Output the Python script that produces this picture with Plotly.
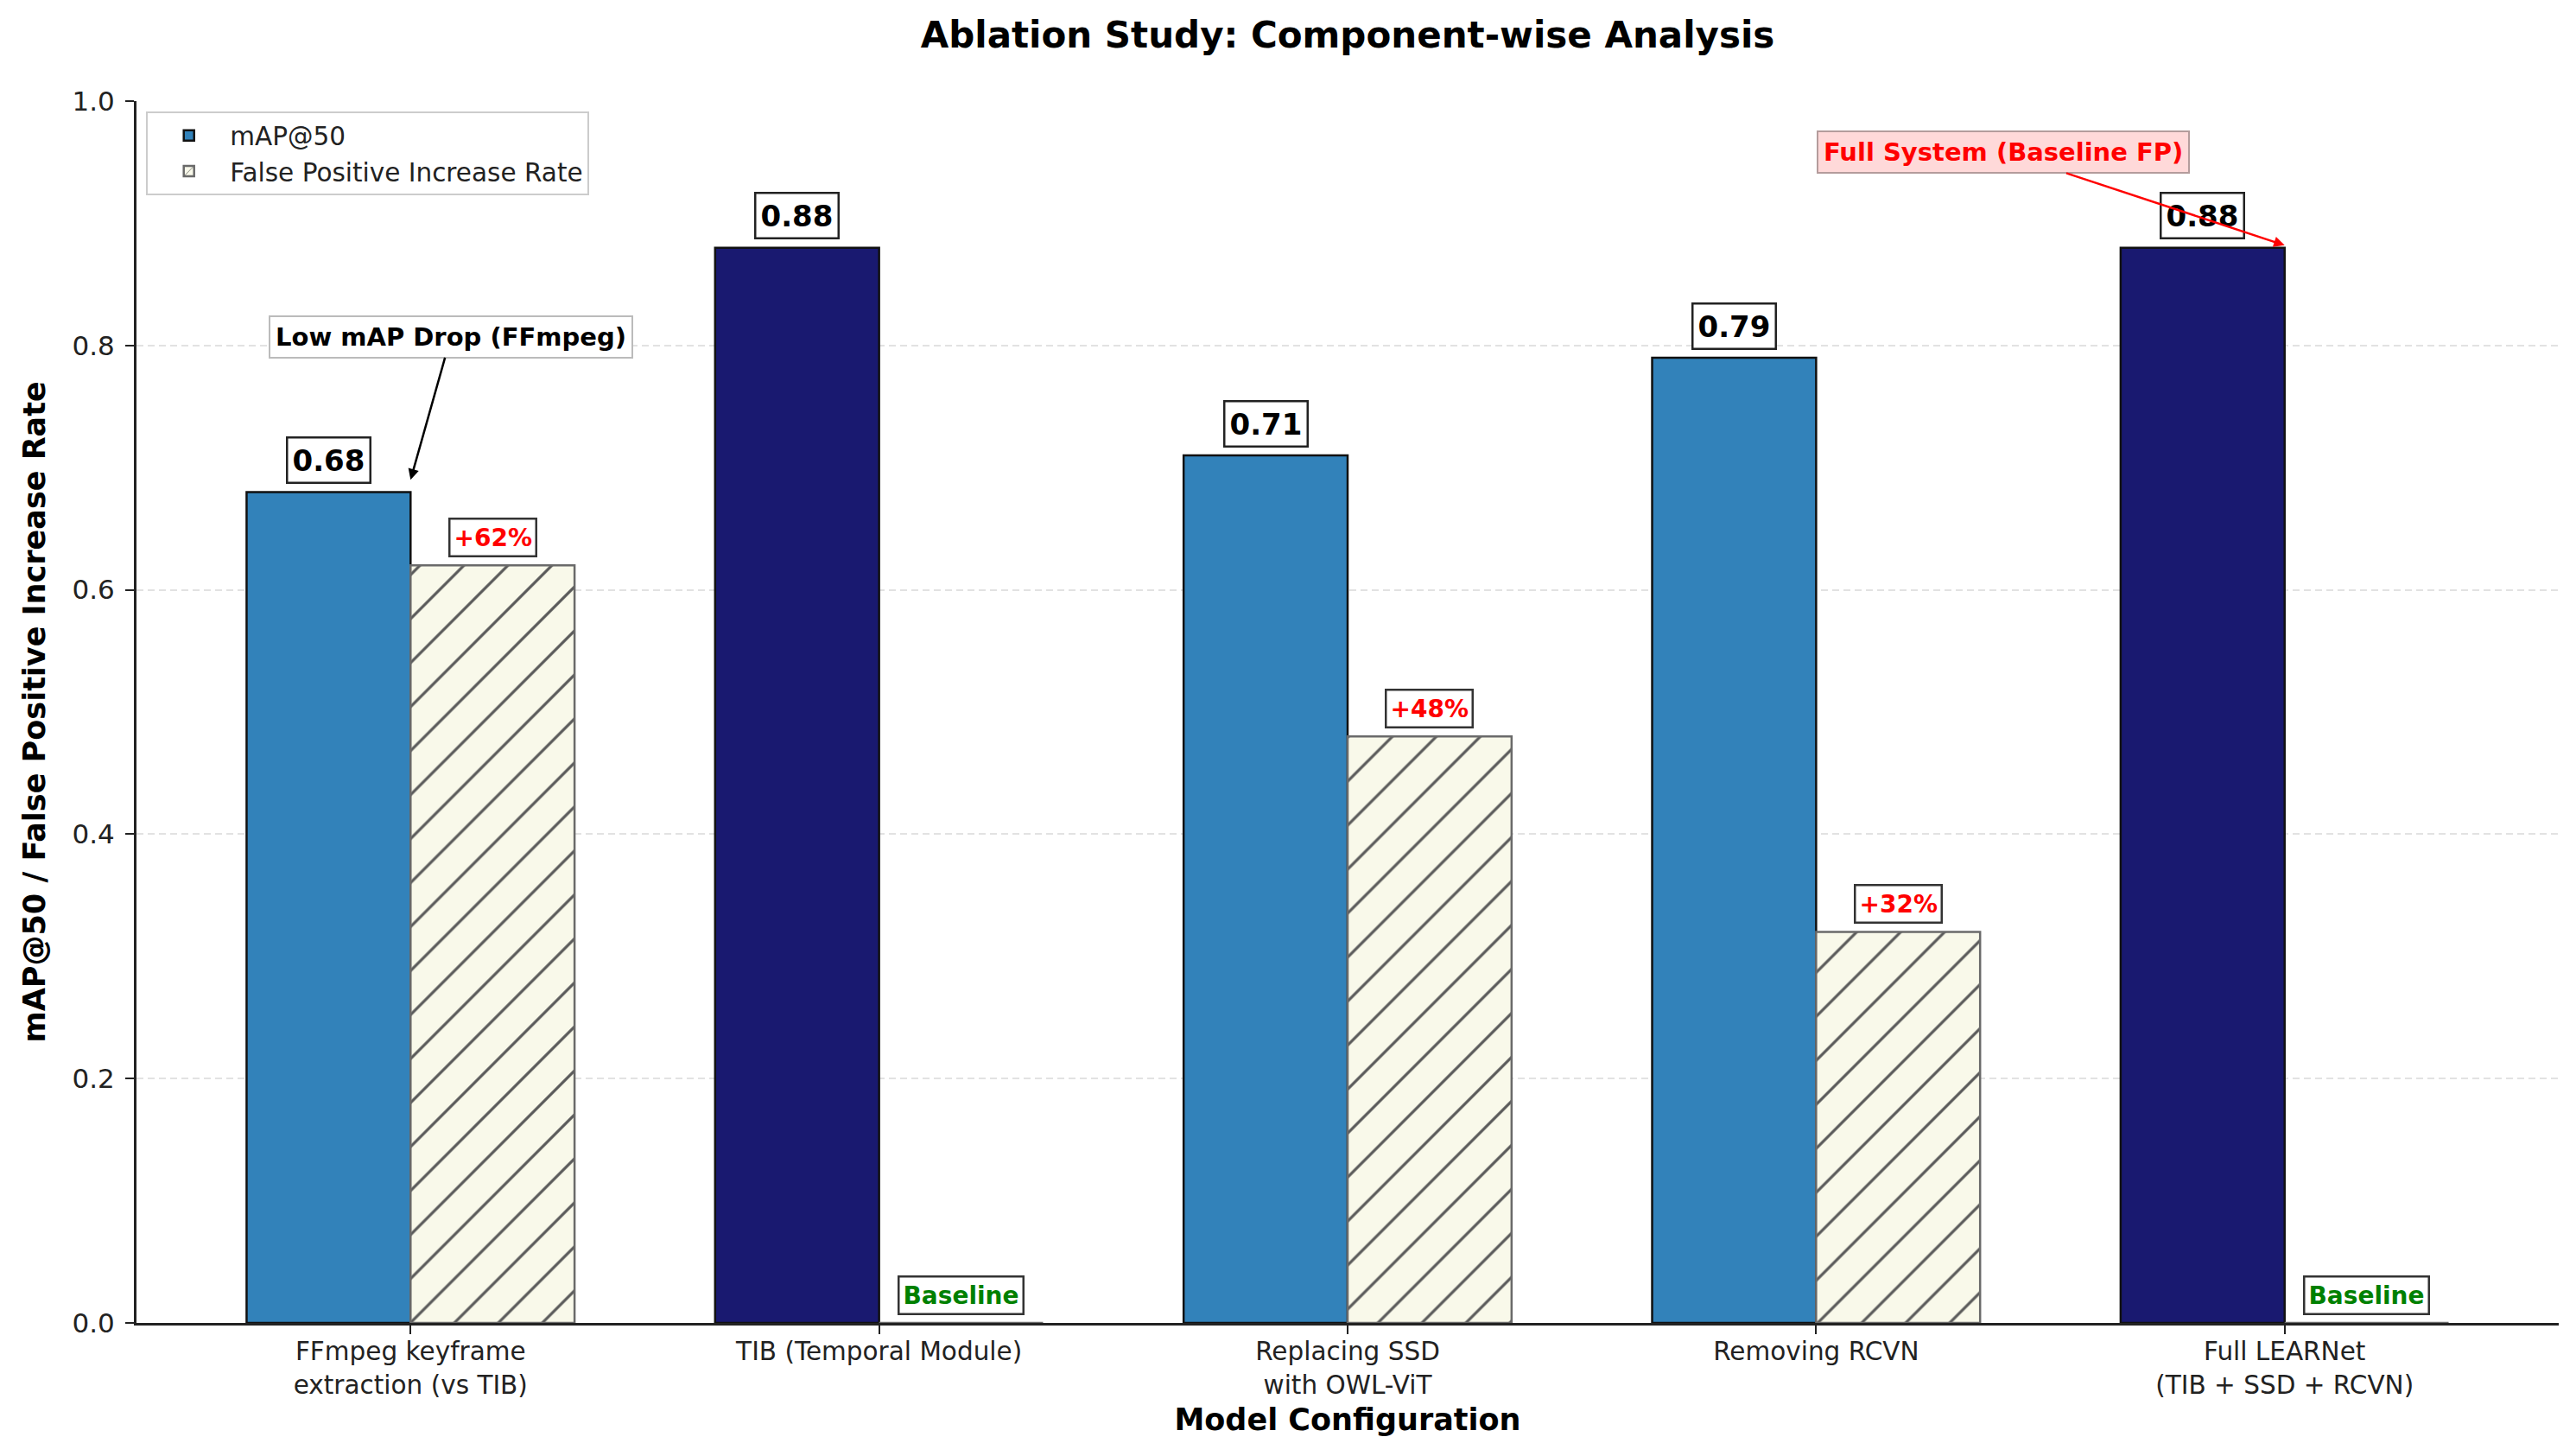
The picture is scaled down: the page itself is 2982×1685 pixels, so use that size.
import plotly.graph_objects as go

# ---------------- data ----------------
configurations = [
    "FFmpeg keyframe<br>extraction (vs TIB)",
    "TIB (Temporal Module)",
    "Replacing SSD<br>with OWL-ViT",
    "Removing RCVN",
    "Full LEARNet<br>(TIB + SSD + RCVN)",
]
map50 = [0.68, 0.88, 0.71, 0.79, 0.88]
fp_increase = [0.62, 0.0, 0.48, 0.32, 0.0]
fp_labels = ["+62%", "Baseline", "+48%", "+32%", "Baseline"]
map_labels = ["0.68", "0.88", "0.71", "0.79", "0.88"]
is_full_config = [False, True, False, False, True]
y_tick_vals = [0.0, 0.2, 0.4, 0.6, 0.8, 1.0]
y_tick_text = ["0.0", "0.2", "0.4", "0.6", "0.8", "1.0"]

# ---------------- style ----------------
FONT = "DejaVu Sans"
BLUE = "#3282BA"
NAVY = "#191970"
BEIGE = "#F9F9EA"
bar_w = 0.35
positions = list(range(len(configurations)))
map_colors = [NAVY if f else BLUE for f in is_full_config]

# page has an 8px body margin, so the figure is sized/positioned to compensate
W, H = 2966, 1669

fig = go.Figure()
fig.add_trace(go.Bar(
    x=positions, y=map50, width=bar_w, offset=-bar_w,
    name="mAP@50",
    marker=dict(color=map_colors, line=dict(color="#111111", width=2.5)),
))
fig.add_trace(go.Bar(
    x=positions, y=fp_increase, width=bar_w, offset=0,
    name="False Positive Increase Rate",
    marker=dict(
        color=BEIGE,
        line=dict(color="#6a6a6a", width=2.5),
        pattern=dict(shape="/", fgcolor="#5a5a5a", bgcolor=BEIGE,
                     size=36, solidity=0.09, fillmode="replace"),
    ),
))

annotations = []
# mAP value labels
for i, (v, t) in enumerate(zip(map50, map_labels)):
    annotations.append(dict(
        x=i - bar_w / 2, y=v + 0.0065, xref="x", yref="y",
        text="<b>%s</b>" % t, showarrow=False, yanchor="bottom", xanchor="center",
        font=dict(family=FONT, size=34, color="black"),
        bgcolor="white", bordercolor="#222222", borderwidth=2.5, borderpad=5,
    ))
# FP labels
for i, (v, t) in enumerate(zip(fp_increase, fp_labels)):
    col = "#008000" if t == "Baseline" else "#FF0000"
    annotations.append(dict(
        x=i + bar_w / 2, y=v + 0.0065, xref="x", yref="y",
        text="<b>%s</b>" % t, showarrow=False, yanchor="bottom", xanchor="center",
        font=dict(family=FONT, size=28, color=col),
        bgcolor="white", bordercolor="#333333", borderwidth=2.5, borderpad=4,
    ))
# callouts
annotations.append(dict(
    x=0.0, y=0.69, xref="x", yref="y",
    ax=0.086, ay=0.807, axref="x", ayref="y",
    text="<b>Low mAP Drop (FFmpeg)</b>", showarrow=True,
    arrowhead=2, arrowsize=1, arrowwidth=2.5, arrowcolor="black",
    font=dict(family=FONT, size=29, color="black"),
    bgcolor="white", bordercolor="#bbbbbb", borderwidth=2, borderpad=6,
))
annotations.append(dict(
    x=4.0, y=0.882, xref="x", yref="y",
    ax=3.40, ay=0.958, axref="x", ayref="y",
    text="<b>Full System (Baseline FP)</b>", showarrow=True,
    arrowhead=2, arrowsize=1, arrowwidth=2.5, arrowcolor="#FF0000",
    font=dict(family=FONT, size=29, color="#FF0000"),
    bgcolor="rgba(255,0,0,0.15)", bordercolor="#b49c9c", borderwidth=2, borderpad=6,
))

fig.update_layout(
    width=W, height=H,
    margin=dict(l=150, r=12, t=109, b=146),
    paper_bgcolor="white", plot_bgcolor="white",
    barmode="overlay",
    font=dict(family=FONT, color="#222222"),
    title=dict(
        text="<b>Ablation Study: Component-wise Analysis</b>",
        x=0.5, xref="paper", xanchor="center",
        y=1 - 32 / H, yref="container", yanchor="middle",
        font=dict(family=FONT, size=42, color="black"),
    ),
    legend=dict(
        x=0.004, y=0.9915, xanchor="left", yanchor="top",
        bgcolor="rgba(255,255,255,0.85)", bordercolor="#cccccc", borderwidth=2,
        font=dict(family=FONT, size=29.5, color="#222222"),
        itemwidth=85,
    ),
    annotations=annotations,
    xaxis=dict(
        range=[-0.585, 4.585],
        tickmode="array", tickvals=positions, ticktext=configurations,
        ticks="outside", ticklen=10, tickwidth=2, tickcolor="#222222",
        tickfont=dict(family=FONT, size=29.5, color="#222222"),
        ticklabelstandoff=-5,
        showline=True, linecolor="#222222", linewidth=3,
        showgrid=False, zeroline=False,
        title=dict(text="<b>Model Configuration</b>", standoff=12,
                   font=dict(family=FONT, size=35, color="black")),
    ),
    yaxis=dict(
        range=[0, 1.0],
        tickmode="array", tickvals=y_tick_vals, ticktext=y_tick_text,
        ticks="outside", ticklen=10, tickwidth=2, tickcolor="#222222",
        tickfont=dict(family=FONT, size=31, color="#222222"),
        ticklabelstandoff=6,
        showline=True, linecolor="#222222", linewidth=3,
        showgrid=True, gridcolor="#e2e2e2", gridwidth=2, griddash="8px,5px",
        zeroline=False,
        title=dict(text="<b>mAP@50 / False Positive Increase Rate</b>", standoff=21,
                   font=dict(family=FONT, size=35, color="black")),
    ),
)

fig.write_html("out.html")
